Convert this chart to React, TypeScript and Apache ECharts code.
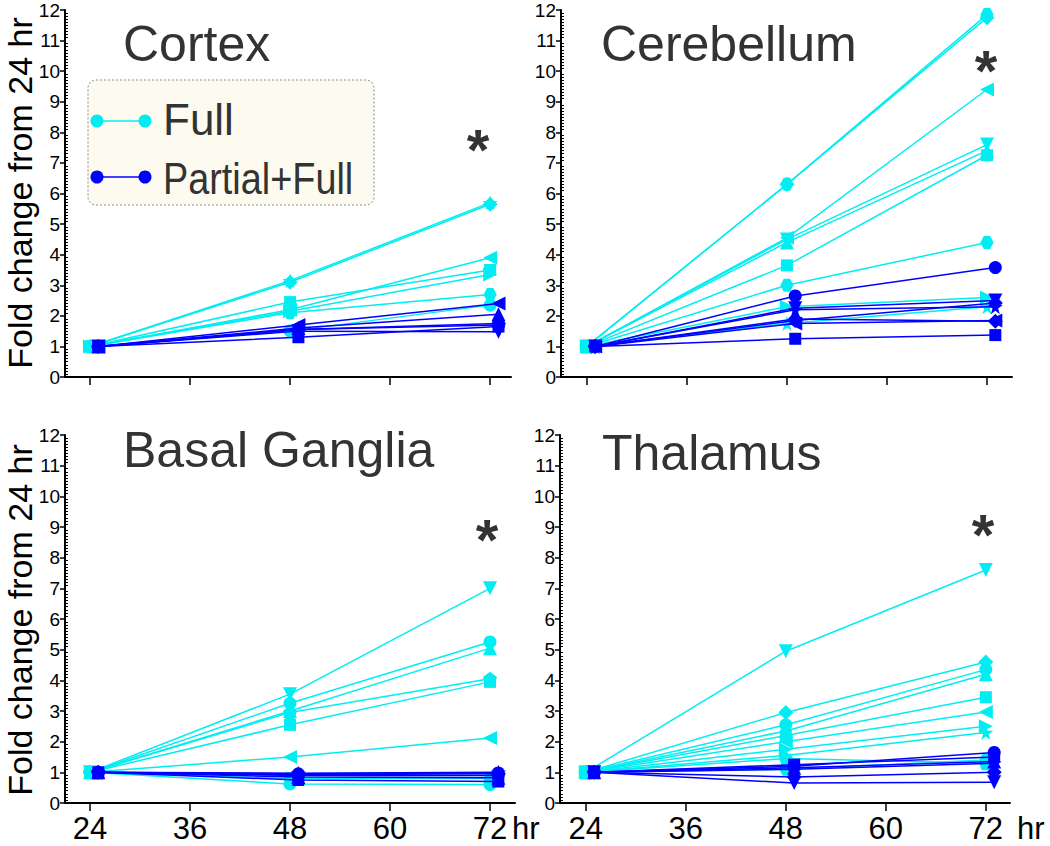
import React, { useEffect, useRef } from 'react';
import * as echarts from 'echarts';

// ---------- data ----------
const hoursFull = [24, 48, 72];
const hoursPartial = [25, 49, 73];
const xTicks = [24, 36, 48, 60, 72];
const panelTitles = ['Cortex', 'Cerebellum', 'Basal Ganglia', 'Thalamus'];
const legendLabels = ['Full', 'Partial+Full'];
const yAxisTitle = 'Fold change from 24 hr';
const xUnit = 'hr';

const cortexFull = [
  [1, 2.45, 3.5],
  [1, 2.1, 2.7],
  [1, 1.5, 2.35],
  [1, 2.15, 3.35],
  [1, 3.1, 5.65],
  [1, 2.2, 3.9],
  [1, 3.15, 5.7],
];
const cortexPartial = [
  [1, 1.3, 1.65],
  [1, 1.55, 1.7],
  [1, 1.6, 2.05],
  [1, 1.5, 1.48],
  [1, 1.55, 1.75],
  [1, 1.7, 2.4],
];
const cerebellumFull = [
  [1, 6.3, 11.85],
  [1, 6.3, 11.75],
  [1, 4.55, 9.4],
  [1, 4.5, 7.6],
  [1, 4.4, 7.4],
  [1, 3.65, 7.25],
  [1, 3.0, 4.4],
  [1, 2.3, 2.6],
  [1, 1.75, 2.3],
];
const cerebellumPartial = [
  [1, 2.65, 3.58],
  [1, 2.25, 2.5],
  [1, 2.2, 2.3],
  [1, 1.85, 2.42],
  [1, 1.75, 1.85],
  [1, 1.9, 1.82],
  [1, 1.25, 1.37],
];
const basalFull = [
  [1, 3.55, 7.0],
  [1, 3.25, 5.25],
  [1, 3.0, 5.05],
  [1, 2.95, 4.05],
  [1, 2.55, 3.95],
  [1, 1.5, 2.12],
  [1, 0.62, 0.6],
  [1, 0.8, 0.8],
];
const basalPartial = [
  [1, 0.97, 1.0],
  [1, 0.92, 0.95],
  [1, 0.75, 0.7],
  [1, 0.85, 0.82],
  [1, 0.95, 0.98],
  [1, 0.9, 0.9],
];
const thalamusFull = [
  [1, 4.95, 7.6],
  [1, 2.95, 4.6],
  [1, 2.55, 4.35],
  [1, 2.35, 4.2],
  [1, 2.2, 3.45],
  [1, 2.0, 2.97],
  [1, 1.75, 2.5],
  [1, 1.55, 2.3],
  [1, 1.1, 1.4],
  [1, 1.45, 1.3],
];
const thalamusPartial = [
  [1, 1.2, 1.65],
  [1, 1.25, 1.5],
  [1, 1.15, 1.35],
  [1, 1.1, 1.3],
  [1, 0.85, 1.0],
  [1, 0.65, 0.68],
];

// marker shapes (style, kept apart from the values)
const cortexFullMarks = ['rect', 'hexagon', 'circle', 'triangleRight', 'diamond', 'triangleLeft', 'star'];
const cortexPartialMarks = ['rect', 'circle', 'triangle', 'triangleDown', 'diamond', 'triangleLeft'];
const cerebellumFullMarks = ['hexagon', 'diamond', 'triangleLeft', 'triangleDown', 'triangle', 'rect', 'hexagon', 'triangleRight', 'star'];
const cerebellumPartialMarks = ['circle', 'triangleDown', 'star', 'diamond', 'triangleLeft', 'diamond', 'rect'];
const basalFullMarks = ['triangleDown', 'circle', 'triangle', 'pentagon', 'rect', 'triangleLeft', 'circle', 'hexagon'];
const basalPartialMarks = ['star', 'diamond', 'rect', 'triangle', 'circle', 'pentagon'];
const thalamusFullMarks = ['triangleDown', 'diamond', 'circle', 'triangle', 'rect', 'triangleLeft', 'triangleRight', 'star', 'hexagon', 'pentagon'];
const thalamusPartialMarks = ['circle', 'rect', 'triangle', 'star', 'diamond', 'triangleDown'];

// ---------- styling ----------
const CYAN = '#00eef2';
const BLUE = '#0000ff';
const FONT = '"Liberation Sans", Arial, sans-serif';

const SYMBOLS: Record<string, { symbol: string; rotate: number; size: number }> = {
  rect: { symbol: 'rect', rotate: 0, size: 12 },
  circle: { symbol: 'circle', rotate: 0, size: 13 },
  triangle: { symbol: 'triangle', rotate: 0, size: 14 },
  triangleDown: { symbol: 'triangle', rotate: 180, size: 14 },
  triangleLeft: { symbol: 'triangle', rotate: 90, size: 14 },
  triangleRight: { symbol: 'triangle', rotate: -90, size: 14 },
  diamond: { symbol: 'diamond', rotate: 0, size: 15 },
  hexagon: { symbol: 'path://M25,0 L75,0 L100,50 L75,100 L25,100 L0,50 Z', rotate: 0, size: 13 },
  star: { symbol: 'path://M50,0 L61,35 L98,35 L68,57 L79,91 L50,70 L21,91 L32,57 L2,35 L39,35 Z', rotate: 0, size: 15 },
  pentagon: { symbol: 'path://M50,0 L100,38 L81,100 L19,100 L0,38 Z', rotate: 0, size: 14 },
};

const panels = [
  { full: cortexFull, fullMarks: cortexFullMarks, partial: cortexPartial, partialMarks: cortexPartialMarks },
  { full: cerebellumFull, fullMarks: cerebellumFullMarks, partial: cerebellumPartial, partialMarks: cerebellumPartialMarks },
  { full: basalFull, fullMarks: basalFullMarks, partial: basalPartial, partialMarks: basalPartialMarks },
  { full: thalamusFull, fullMarks: thalamusFullMarks, partial: thalamusPartial, partialMarks: thalamusPartialMarks },
];

const grids = [
  { left: 65, top: 10, width: 446, height: 367, xMin: 21, xMax: 74.5, showLabels: false },
  { left: 561, top: 10, width: 451, height: 367, xMin: 20.9, xMax: 75, showLabels: false },
  { left: 65, top: 435, width: 450, height: 368, xMin: 21, xMax: 75, showLabels: true },
  { left: 560, top: 435, width: 450, height: 368, xMin: 20.9, xMax: 74.9, showLabels: true },
];

const titlePos = [
  { x: 123, y: 44 },
  { x: 601, y: 44 },
  { x: 123, y: 450 },
  { x: 602, y: 453 },
];
const starPos = [
  { x: 478, y: 149 },
  { x: 986, y: 70 },
  { x: 487, y: 539 },
  { x: 983, y: 534 },
];

function buildOption() {
  const grid = grids.map((g) => ({ left: g.left, top: g.top, width: g.width, height: g.height, containLabel: false }));
  const xAxis = grids.map((g, i) => ({
    type: 'value',
    gridIndex: i,
    min: g.xMin,
    max: g.xMax,
    axisLine: { show: true, onZero: false, lineStyle: { color: '#000', width: 2 } },
    axisTick: { show: true, inside: false, length: 8, lineStyle: { color: '#000', width: 1.5 }, customValues: xTicks },
    axisLabel: {
      show: g.showLabels,
      customValues: xTicks,
      margin: 11,
      color: '#000',
      fontSize: 31,
      lineHeight: 28,
      fontFamily: FONT,
    },
    splitLine: { show: false },
  }));
  const yMain = grids.map((g, i) => ({
    type: 'value',
    gridIndex: i,
    min: 0,
    max: 12,
    interval: 1,
    axisLine: { show: true, lineStyle: { color: '#000', width: 2 } },
    axisTick: { show: true, inside: false, length: 5, lineStyle: { color: '#000', width: 1.5 } },
    axisLabel: { show: true, margin: 5, color: '#000', fontSize: 19, fontFamily: FONT },
    splitLine: { show: false },
  }));
  const yMinor = grids.map((g, i) => ({
    type: 'value',
    gridIndex: i,
    position: 'left',
    min: 0,
    max: 12,
    interval: 1,
    axisLine: { show: false },
    axisTick: { show: false, inside: true },
    axisLabel: { show: false },
    minorTick: { show: true, splitNumber: 10, length: 3, lineStyle: { color: '#000', width: 1 } },
    splitLine: { show: false },
  }));

  const series: any[] = [];
  panels.forEach((p, i) => {
    p.full.forEach((vals, k) => {
      const s = SYMBOLS[p.fullMarks[k]];
      series.push({
        type: 'line',
        xAxisIndex: i,
        yAxisIndex: i,
        data: hoursFull.map((h, j) => [h, vals[j]]),
        symbol: s.symbol,
        symbolRotate: s.rotate,
        symbolSize: s.size,
        showAllSymbol: true,
        lineStyle: { color: CYAN, width: 1.5 },
        itemStyle: { color: CYAN },
        z: 2,
      });
    });
    p.partial.forEach((vals, k) => {
      const s = SYMBOLS[p.partialMarks[k]];
      series.push({
        type: 'line',
        xAxisIndex: i,
        yAxisIndex: i,
        data: hoursPartial.map((h, j) => [h, vals[j]]),
        symbol: s.symbol,
        symbolRotate: s.rotate,
        symbolSize: s.size,
        showAllSymbol: true,
        lineStyle: { color: BLUE, width: 1.5 },
        itemStyle: { color: BLUE },
        z: 3,
      });
    });
  });

  const graphic: any[] = [];
  panelTitles.forEach((t, i) => {
    graphic.push({
      type: 'text',
      x: titlePos[i].x,
      y: titlePos[i].y,
      style: { text: t, fill: '#333', fontSize: 50, fontFamily: FONT, align: 'left', verticalAlign: 'middle' },
    });
    graphic.push({
      type: 'text',
      x: starPos[i].x,
      y: starPos[i].y,
      style: { text: '*', fill: '#333', fontSize: 58, fontWeight: 'bold', fontFamily: FONT, align: 'center', verticalAlign: 'middle' },
    });
  });
  // y-axis titles
  [193, 620].forEach((cy) => {
    graphic.push({
      type: 'text',
      x: 20,
      y: cy,
      rotation: Math.PI / 2,
      style: { text: yAxisTitle, fill: '#000', fontSize: 34, lineHeight: 30, fontFamily: FONT, align: 'center', verticalAlign: 'middle' },
    });
  });
  // x unit labels
  [512, 1017].forEach((x) => {
    graphic.push({
      type: 'text',
      x,
      y: 828,
      style: { text: xUnit, fill: '#000', fontSize: 31, lineHeight: 26, fontFamily: FONT, align: 'left', verticalAlign: 'middle' },
    });
  });
  // legend
  graphic.push({
    type: 'rect',
    shape: { x: 88, y: 80, width: 286, height: 125, r: 8 },
    style: { fill: '#fdfbef', stroke: '#8a8a8a', lineWidth: 1, lineDash: [2, 2] },
    z: 10,
  });
  const legendRows = [
    { y: 121, color: CYAN, textY: 119, label: legendLabels[0], scaleX: 1 },
    { y: 177, color: BLUE, textY: 179, label: legendLabels[1], scaleX: 0.86 },
  ];
  legendRows.forEach((r) => {
    graphic.push({ type: 'line', shape: { x1: 97, y1: r.y, x2: 145, y2: r.y }, style: { stroke: r.color, lineWidth: 1.5 }, z: 11 });
    graphic.push({ type: 'circle', shape: { cx: 97, cy: r.y, r: 6.5 }, style: { fill: r.color }, z: 11 });
    graphic.push({ type: 'circle', shape: { cx: 145, cy: r.y, r: 6.5 }, style: { fill: r.color }, z: 11 });
    graphic.push({
      type: 'text',
      x: 163,
      y: r.textY,
      scaleX: r.scaleX,
      style: { text: r.label, fill: '#333', fontSize: 44, fontFamily: FONT, align: 'left', verticalAlign: 'middle' },
      z: 11,
    });
  });

  return {
    animation: false,
    backgroundColor: '#fff',
    grid,
    xAxis,
    yAxis: [...yMain, ...yMinor],
    series,
    graphic,
  };
}

export default function App() {
  const ref = useRef<HTMLDivElement>(null);
  useEffect(() => {
    if (!ref.current) return;
    const chart = echarts.init(ref.current, undefined, { renderer: 'svg' });
    chart.setOption(buildOption() as any);
    return () => chart.dispose();
  }, []);
  return <div ref={ref} style={{ position: 'fixed', left: 0, top: 0, width: 1050, height: 846 }} />;
}
